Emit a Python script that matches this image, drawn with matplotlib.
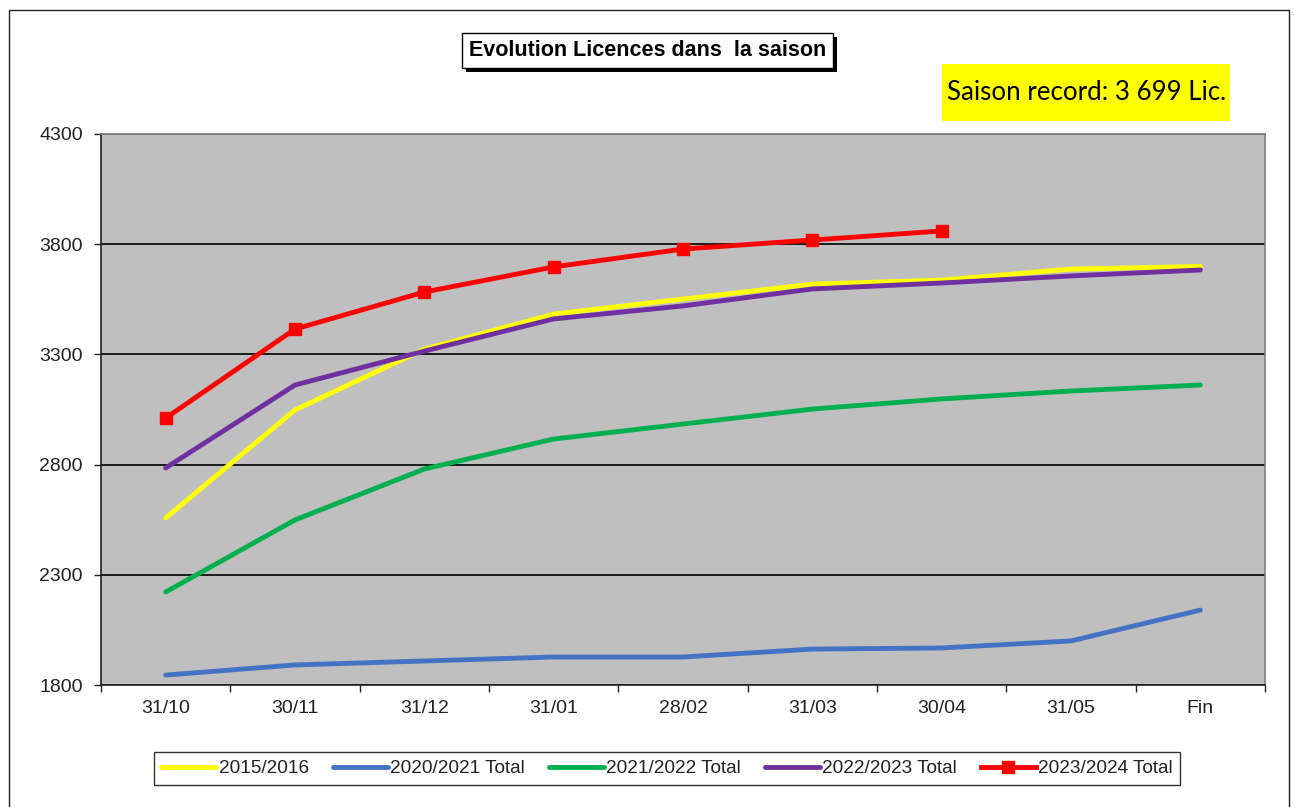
import matplotlib
matplotlib.use("Agg")
import matplotlib.pyplot as plt
from matplotlib.patches import Rectangle
from matplotlib import patheffects
from matplotlib.ticker import FixedLocator, NullFormatter

categories = ["31/10", "30/11", "31/12", "31/01", "28/02", "31/03", "30/04", "31/05", "Fin"]
s2015 = [2558, 3048, 3324, 3483, 3551, 3619, 3637, 3687, 3699]
s2020 = [1845, 1891, 1909, 1927, 1927, 1963, 1968, 2000, 2140]
s2021 = [2222, 2549, 2780, 2916, 2984, 3052, 3098, 3134, 3161]
s2022 = [2785, 3161, 3315, 3461, 3520, 3597, 3624, 3656, 3683]
s2023 = [3011, 3415, 3583, 3697, 3778, 3819, 3860]
labels = ["2015/2016", "2020/2021 Total", "2021/2022 Total", "2022/2023 Total", "2023/2024 Total"]
yticks = [1800, 2300, 2800, 3300, 3800, 4300]

W, H = 1294, 807
fig = plt.figure(figsize=(W / 100, H / 100), dpi=100)
plt.rcParams['font.family'] = ['Liberation Sans', 'DejaVu Sans']

def fx(px):
    return px / W

def fy(py):
    return 1 - py / H

# outer border
fig.add_artist(Rectangle((fx(9), -0.01), fx(1289) - fx(9), fy(10) + 0.01,
                         transform=fig.transFigure, fill=False, edgecolor='#222222', lw=1.0))

ax = fig.add_axes([fx(101), fy(685), fx(1265) - fx(101), fy(134) - fy(685)])
ax.set_facecolor('#BFBFBF')
x = list(range(len(categories)))

lw = 3.5
ax.plot(x, s2015, color='#FFFF00', lw=lw, label=labels[0], solid_capstyle='round')
ax.plot(x, s2020, color='#4472C4', lw=lw, label=labels[1], solid_capstyle='round')
ax.plot(x, s2021, color='#00B050', lw=lw, label=labels[2], solid_capstyle='round')
ax.plot(x, s2022, color='#7030A0', lw=lw, label=labels[3], solid_capstyle='round')
ax.plot(x[:len(s2023)], s2023, color='#FF0000', lw=lw, marker='s', markersize=8.5,
        label=labels[4])

ax.set_xlim(-0.5, len(categories) - 0.5)
ax.set_ylim(1800, 4300)
ax.set_yticks(yticks)
ax.set_yticklabels([str(v) for v in yticks])
ax.yaxis.grid(True, color='black', lw=1.2)
ax.set_axisbelow(True)

ax.set_xticks(x)
ax.set_xticklabels(categories)
ax.xaxis.set_minor_locator(FixedLocator([i - 0.5 for i in range(len(categories) + 1)]))
ax.xaxis.set_minor_formatter(NullFormatter())
ax.tick_params(axis='x', which='major', length=0, pad=11, labelsize=14, labelcolor='#222222')
ax.tick_params(axis='x', which='minor', length=5, width=1, color='#222222', direction='out')
ax.tick_params(axis='y', length=5, width=1, color='#222222', pad=8, labelsize=14,
               labelcolor='#222222')

for side in ['left', 'bottom']:
    ax.spines[side].set_color('#222222')
    ax.spines[side].set_linewidth(1.2)
for side in ['top', 'right']:
    ax.spines[side].set_color('#808080')
    ax.spines[side].set_linewidth(1.2)

# title box with shadow
t = fig.text(fx(647.5), fy(50.5), "Evolution Licences dans  la saison", ha='center', va='center',
             fontsize=15.5, fontweight='bold', color='black',
             bbox=dict(boxstyle='square,pad=0.32', facecolor='white', edgecolor='black', lw=1))
t.get_bbox_patch().set_path_effects([
    patheffects.SimplePatchShadow(offset=(3, -3), shadow_rgbFace='black', alpha=1.0),
    patheffects.Normal()])

# record box
fig.add_artist(Rectangle((fx(942), fy(121)), fx(1230) - fx(942), fy(64) - fy(121),
                         transform=fig.transFigure, facecolor='#FFFF00', edgecolor='none'))
fig.text(fx(947), fy(93), "Saison record: 3 699 Lic.", ha='left', va='center',
         fontsize=18.6, family=['Lato', 'DejaVu Sans'], color='black')

leg = ax.legend(loc='center', bbox_to_anchor=(fx(667), fy(768.5)),
                bbox_transform=fig.transFigure, ncol=5, fontsize=13.7,
                frameon=True, fancybox=False, edgecolor='black', handlelength=2.9,
                handletextpad=0.12, columnspacing=1.25, borderpad=0.4)
leg.get_frame().set_linewidth(1.0)
for txt in leg.get_texts():
    txt.set_color('#222222')

fig.savefig("out.png", dpi=100)
